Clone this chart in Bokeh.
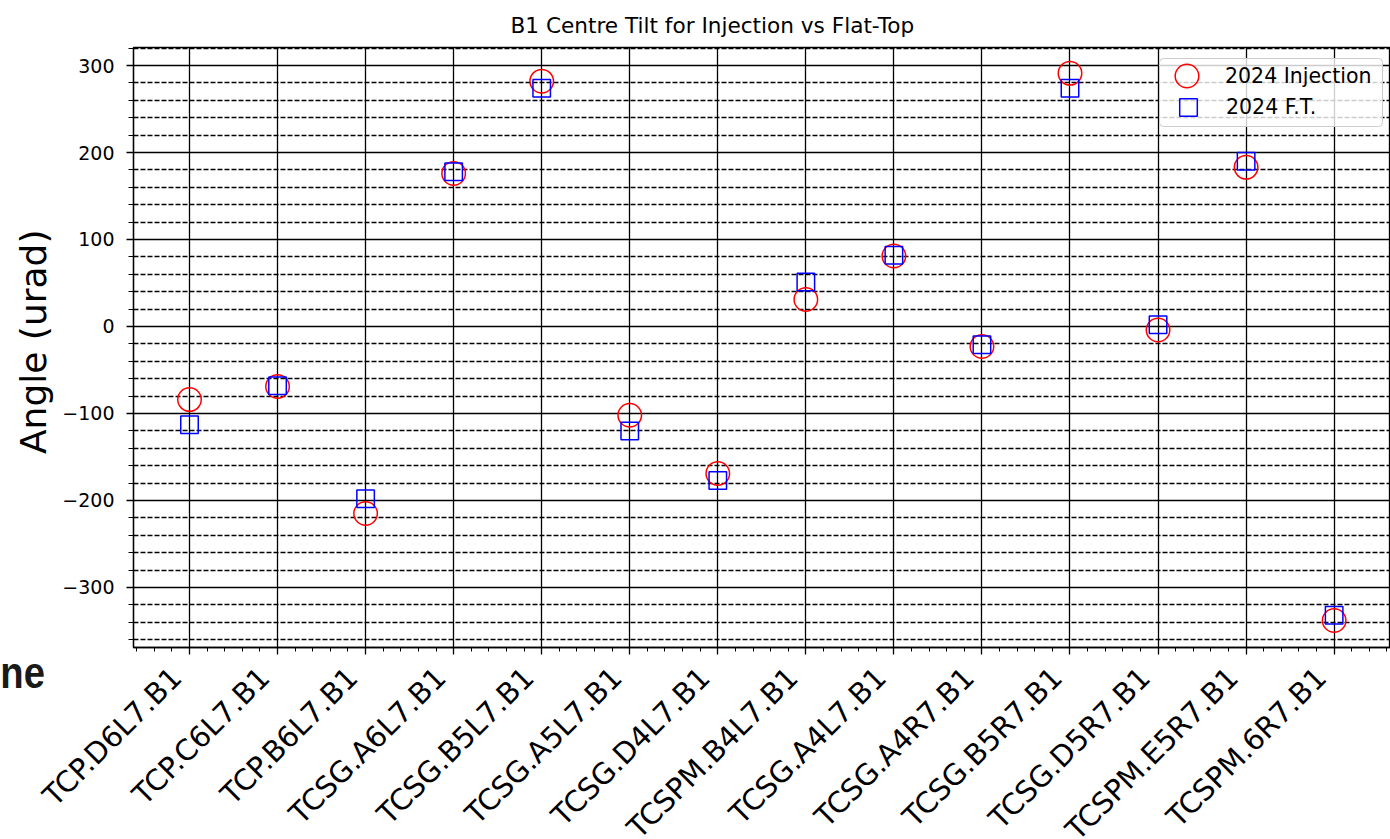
import math
import numpy as np
from bokeh.plotting import figure
from bokeh.models import (Range1d, FixedTicker, Legend, LegendItem, Div, BoxAnnotation)
from bokeh.models import ColumnDataSource
from bokeh.embed import file_html
from bokeh.resources import INLINE

# ---- data ----
collimators = ["TCP.D6L7.B1", "TCP.C6L7.B1", "TCP.B6L7.B1", "TCSG.A6L7.B1", "TCSG.B5L7.B1",
               "TCSG.A5L7.B1", "TCSG.D4L7.B1", "TCSPM.B4L7.B1", "TCSG.A4L7.B1", "TCSG.A4R7.B1",
               "TCSG.B5R7.B1", "TCSG.D5R7.B1", "TCSPM.E5R7.B1", "TCSPM.6R7.B1"]
injection_2024 = [-84, -69, -215, 176, 282, -102, -169, 31, 81, -23, 291, -4, 183, -338]
flattop_2024 = [-113, -68, -198, 178, 274, -120, -177, 51, 82, -21, 274, 2, 190, -332]
y_major_ticks = [-300, -200, -100, 0, 100, 200, 300]
y_minor_ticks = [v for v in range(-360, 321, 20) if v % 100 != 0]
y_tick_labels = {t: (f"\u2212{abs(t)}" if t < 0 else str(t)) for t in y_major_ticks}

x_idx = list(range(len(collimators)))
# trailing no-break spaces move the rotated label's anchor to the text's lower corner
x_tick_labels = {i: name + "\u00a0\u00a0" for i, name in zip(x_idx, collimators)}
x_minor_ticks = [round(v, 1) for v in np.arange(-0.6, 13.61, 0.2)]

FONT = "DejaVu Sans"
LW = 1.3

src = ColumnDataSource(dict(x=x_idx, inj=injection_2024, ft=flattop_2024))

p = figure(frame_width=1257, frame_height=600, output_backend="svg", toolbar_location=None,
           x_range=Range1d(-0.636, 13.64), y_range=Range1d(-369, 320.7),
           min_border_left=133, min_border_right=0, min_border_top=47, min_border_bottom=0,
           title="B1 Centre Tilt for Injection vs Flat-Top")
p.background_fill_color = "white"
p.border_fill_color = "white"
p.outline_line_color = "black"
p.outline_line_width = LW

# title
p.title.text_font = FONT
p.title.text_font_size = "21.6px"
p.title.text_font_style = "normal"
p.title.text_color = "black"
p.title.align = "left"
p.title.offset = 377
p.title.standoff = 19

# axes
p.xaxis.ticker = FixedTicker(ticks=x_idx, minor_ticks=x_minor_ticks)
p.yaxis.ticker = FixedTicker(ticks=y_major_ticks, minor_ticks=y_minor_ticks)
p.xaxis.major_label_overrides = x_tick_labels
p.yaxis.major_label_overrides = y_tick_labels
for ax in (p.xaxis, p.yaxis):
    ax.axis_line_color = "black"
    ax.axis_line_width = LW
    ax.major_tick_line_color = "black"
    ax.minor_tick_line_color = "black"
    ax.major_tick_line_width = LW
    ax.minor_tick_line_width = 1
    ax.major_tick_in = 0
    ax.minor_tick_in = 0
    ax.major_tick_out = 7
    ax.major_label_text_font = FONT
    ax.major_label_text_color = "black"
p.xaxis.minor_tick_out = 4
p.yaxis.minor_tick_out = 5
p.xaxis.major_label_text_font_size = "29px"
p.xaxis.major_label_orientation = math.pi / 4
p.xaxis.major_label_standoff = 5
p.yaxis.major_label_text_font_size = "19px"
p.yaxis.major_label_standoff = 12
# leading no-break space lifts the centred rotated label slightly, as in the original
p.yaxis.axis_label = "\u00a0Angle (urad)"
p.yaxis.axis_label_text_font = FONT
p.yaxis.axis_label_text_font_size = "36px"
p.yaxis.axis_label_text_font_style = "normal"
p.yaxis.axis_label_text_color = "black"
p.yaxis.axis_label_standoff = 5

# grids
p.xgrid.grid_line_color = "black"
p.xgrid.grid_line_width = LW
p.ygrid.grid_line_color = "black"
p.ygrid.grid_line_width = LW
p.ygrid.minor_grid_line_color = "black"
p.ygrid.minor_grid_line_width = LW
p.ygrid.minor_grid_line_dash = "5 2"

# data
r_inj = p.scatter(x="x", y="inj", source=src, marker="circle", size=23.5,
                  fill_color=None, line_color="red", line_width=1.5)
r_ft = p.scatter(x="x", y="ft", source=src, marker="square", size=17.5,
                 fill_color=None, line_color="blue", line_width=1.5)

# legend box + two legends (different marker sizes)
p.add_layout(BoxAnnotation(left=1026, right=1249, top=589, bottom=521,
                           left_units="screen", right_units="screen",
                           top_units="screen", bottom_units="screen",
                           fill_color="white", fill_alpha=0.8,
                           line_color="#cccccc", line_alpha=1, line_width=1,
                           border_radius=4))
leg_common = dict(padding=0, margin=0, spacing=0, border_line_color=None,
                  background_fill_alpha=0, label_text_font=FONT,
                  label_text_font_size="20.5px", label_text_color="black")
p.add_layout(Legend(items=[LegendItem(label="2024 Injection", renderers=[r_inj])],
                    location=(1024, 542), glyph_width=59, glyph_height=59,
                    label_standoff=9, **leg_common))
p.add_layout(Legend(items=[LegendItem(label="2024 F.T.", renderers=[r_ft])],
                    location=(1033, 518), glyph_width=44, glyph_height=44,
                    label_standoff=16, **leg_common))

# cropped text fragment from the surrounding page (cut at the left edge)
ne_div = Div(text="ne", styles={
    "position": "absolute", "left": "-155px", "top": "650px", "width": "200px",
    "text-align": "right", "font-family": "'Liberation Sans', sans-serif",
    "font-weight": "bold", "font-size": "45px", "line-height": "45px",
    "transform": "scaleX(0.85)", "transform-origin": "right center",
    "color": "#1a1a1a", "white-space": "nowrap", "z-index": "10"})
if hasattr(p, "elements"):
    p.elements = [ne_div]

open("out.html", "w").write(file_html(p, INLINE))
